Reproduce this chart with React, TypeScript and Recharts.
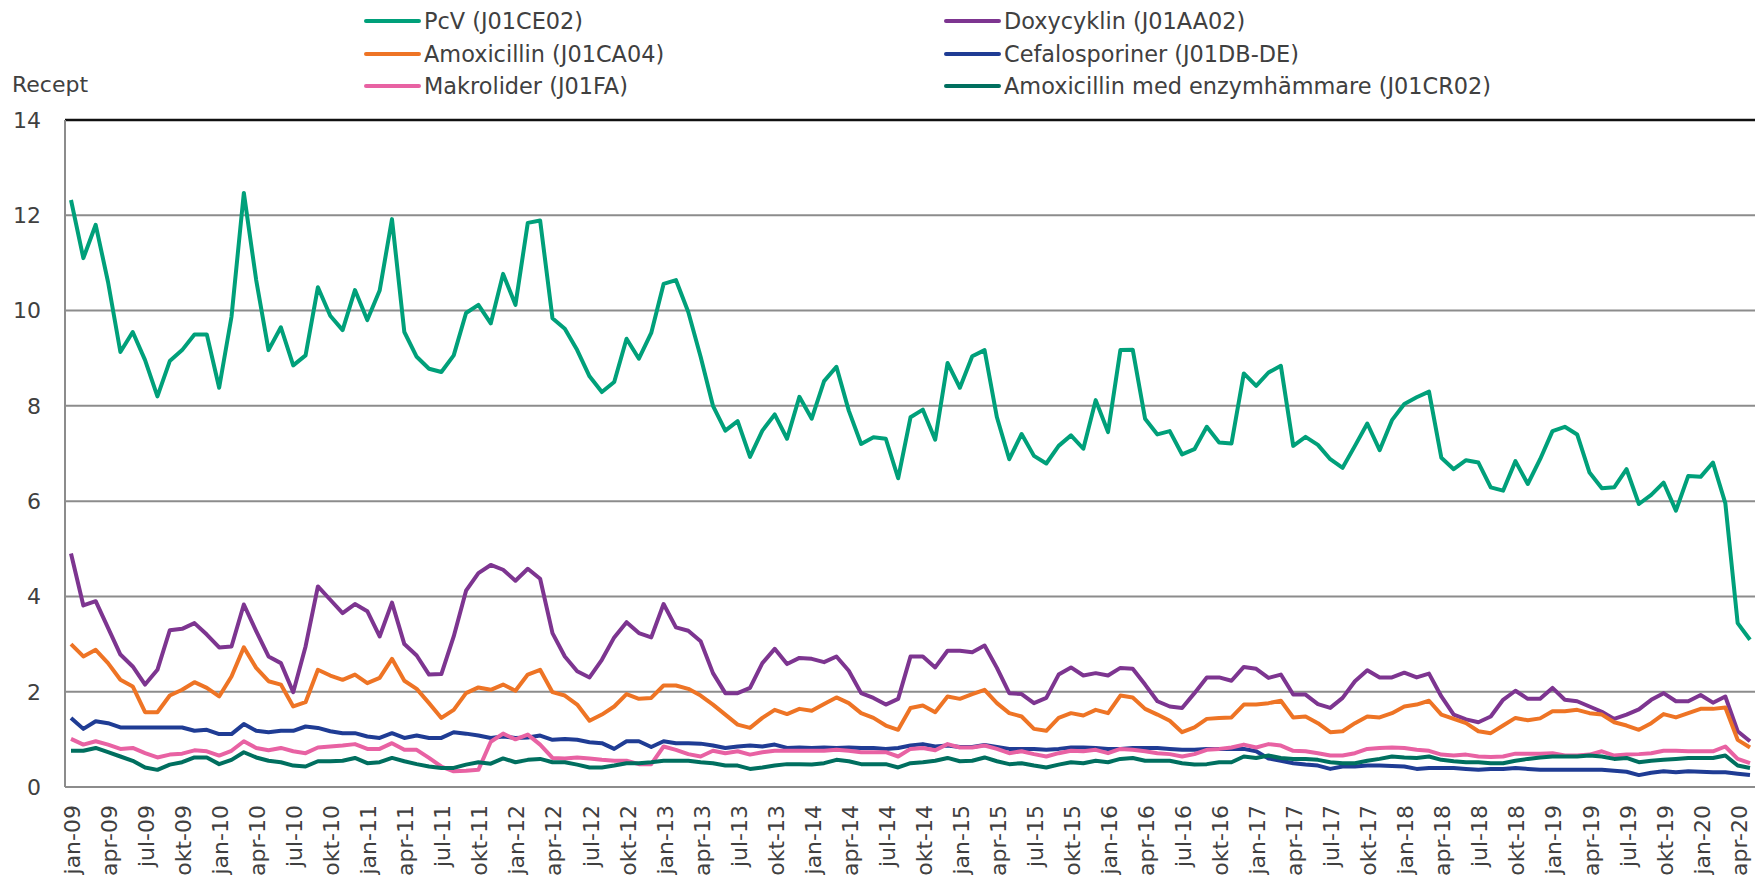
import { LineChart, Line, XAxis, YAxis, CartesianGrid, ReferenceLine } from "recharts";

const monthNames = ["jan", "feb", "mar", "apr", "maj", "jun", "jul", "aug", "sep", "okt", "nov", "dec"];
const years = ["09", "10", "11", "12", "13", "14", "15", "16", "17", "18", "19", "20"];

// jan-09 .. maj-20
const months: string[] = [];
years.forEach((y) => monthNames.forEach((m) => months.push(`${m}-${y}`)));
const categories = months.slice(0, 137);

const pcv = [
  12.32, 11.1, 11.8, 10.6, 9.13, 9.55, 8.96, 8.2, 8.94, 9.17, 9.5, 9.5,
  8.38, 9.87, 12.47, 10.64, 9.17, 9.65, 8.85, 9.06, 10.49, 9.89, 9.59, 10.43,
  9.8, 10.42, 11.92, 9.55, 9.03, 8.78, 8.71, 9.06, 9.95, 10.12, 9.73, 10.77,
  10.12, 11.84, 11.89, 9.84, 9.62, 9.17, 8.62, 8.29, 8.5, 9.41, 8.99, 9.53,
  10.56, 10.64, 9.97, 9.03, 8.0, 7.48, 7.68, 6.93, 7.48, 7.82, 7.31, 8.19,
  7.73, 8.52, 8.82, 7.9, 7.2, 7.34, 7.31, 6.48, 7.76, 7.92, 7.29, 8.9,
  8.38, 9.04, 9.17, 7.76, 6.88, 7.41, 6.95, 6.79, 7.16, 7.38, 7.1, 8.12,
  7.45, 9.17, 9.18, 7.73, 7.4, 7.47, 6.98, 7.09, 7.56, 7.23, 7.21, 8.68,
  8.42, 8.7, 8.84, 7.16, 7.35, 7.18, 6.88, 6.7, 7.16, 7.63, 7.07, 7.7,
  8.04, 8.18, 8.3, 6.91, 6.67, 6.86, 6.81, 6.29, 6.22, 6.84, 6.36, 6.88,
  7.47, 7.56, 7.4, 6.6, 6.27, 6.29, 6.67, 5.94, 6.13, 6.39, 5.8, 6.53,
  6.51, 6.81, 5.96, 3.44, 3.09,
];

const doxy = [
  4.9, 3.81, 3.9, 3.34, 2.78, 2.53, 2.15, 2.46, 3.29, 3.32, 3.44, 3.2,
  2.93, 2.95, 3.83, 3.27, 2.74, 2.6, 1.99, 2.95, 4.21, 3.93, 3.65, 3.84,
  3.69, 3.16, 3.87, 3.0, 2.76, 2.36, 2.37, 3.16, 4.12, 4.49, 4.66, 4.56,
  4.33, 4.58, 4.37, 3.23, 2.74, 2.43, 2.3, 2.67, 3.14, 3.46, 3.23, 3.14,
  3.84, 3.35, 3.28, 3.06, 2.39, 1.97, 1.97, 2.08, 2.6, 2.9, 2.58, 2.71,
  2.69, 2.62, 2.74, 2.44, 1.97, 1.87, 1.73, 1.85, 2.74, 2.74, 2.51, 2.86,
  2.86, 2.83, 2.97, 2.5, 1.97, 1.95, 1.76, 1.87, 2.36, 2.51, 2.34, 2.39,
  2.34, 2.5, 2.48, 2.15, 1.8, 1.69, 1.66, 1.97, 2.3, 2.3, 2.23, 2.52,
  2.48, 2.29, 2.36, 1.94, 1.94, 1.74, 1.66, 1.87, 2.22, 2.45, 2.3, 2.3,
  2.4, 2.3, 2.38, 1.9, 1.52, 1.42, 1.36, 1.48, 1.83, 2.02, 1.85, 1.85,
  2.08, 1.83, 1.8, 1.69, 1.58, 1.43, 1.52, 1.63, 1.83, 1.97, 1.8, 1.8,
  1.93, 1.77, 1.9, 1.17, 0.96,
];

const amox = [
  3.0, 2.74, 2.88, 2.6, 2.25, 2.11, 1.57, 1.57, 1.92, 2.04, 2.2, 2.08,
  1.9, 2.32, 2.93, 2.5, 2.22, 2.15, 1.69, 1.78, 2.46, 2.34, 2.25, 2.36,
  2.18, 2.29, 2.69, 2.23, 2.06, 1.76, 1.45, 1.62, 1.97, 2.09, 2.04, 2.15,
  2.02, 2.36, 2.46, 1.99, 1.92, 1.73, 1.39, 1.52, 1.69, 1.95, 1.85, 1.87,
  2.13, 2.13, 2.06, 1.92, 1.73, 1.52, 1.31, 1.24, 1.45, 1.62, 1.53, 1.64,
  1.6, 1.74, 1.88, 1.76, 1.55, 1.45, 1.29, 1.2, 1.66, 1.71, 1.57, 1.9,
  1.85, 1.95, 2.04, 1.76, 1.55, 1.48, 1.22, 1.18, 1.45, 1.55, 1.5, 1.62,
  1.55, 1.92, 1.88, 1.64, 1.52, 1.39, 1.15, 1.25, 1.43, 1.45, 1.46, 1.73,
  1.73, 1.76, 1.81, 1.46, 1.48, 1.34, 1.15, 1.17, 1.34, 1.48, 1.46, 1.55,
  1.69, 1.73, 1.81, 1.52, 1.43, 1.34, 1.17, 1.13, 1.29, 1.45, 1.4, 1.44,
  1.59, 1.59, 1.62, 1.55, 1.52, 1.36, 1.29, 1.2, 1.34, 1.53, 1.46, 1.55,
  1.64, 1.64, 1.67, 0.99, 0.83,
];

const cefa = [
  1.45, 1.22, 1.38, 1.34, 1.25, 1.25, 1.25, 1.25, 1.25, 1.25, 1.18, 1.2,
  1.11, 1.11, 1.32, 1.18, 1.15, 1.18, 1.18, 1.27, 1.24, 1.17, 1.13, 1.13,
  1.06, 1.03, 1.13, 1.03, 1.08, 1.03, 1.03, 1.15, 1.12, 1.08, 1.03, 1.06,
  1.03, 1.04, 1.08, 0.99, 1.01, 0.99, 0.94, 0.92, 0.8, 0.96, 0.96, 0.84,
  0.96, 0.92, 0.92, 0.91, 0.87, 0.82, 0.85, 0.87, 0.85, 0.89, 0.82, 0.83,
  0.82, 0.83, 0.82, 0.83, 0.82, 0.82, 0.8, 0.82, 0.87, 0.9, 0.85, 0.87,
  0.84, 0.84, 0.88, 0.84, 0.8, 0.8, 0.8, 0.78, 0.8, 0.83, 0.83, 0.82,
  0.8, 0.8, 0.82, 0.82, 0.82, 0.8, 0.78, 0.78, 0.8, 0.8, 0.8, 0.8,
  0.75, 0.6, 0.55, 0.5, 0.47, 0.45, 0.38, 0.43, 0.43, 0.45, 0.45, 0.44,
  0.43, 0.38, 0.4, 0.4, 0.4, 0.38, 0.36, 0.38, 0.38, 0.4, 0.38, 0.36,
  0.36, 0.36, 0.36, 0.36, 0.36, 0.34, 0.32, 0.25, 0.3, 0.33, 0.31, 0.33,
  0.32, 0.31, 0.31, 0.28, 0.25,
];

const makro = [
  1.01, 0.89, 0.96, 0.89, 0.8, 0.82, 0.71, 0.62, 0.68, 0.7, 0.77, 0.75,
  0.66, 0.76, 0.96, 0.82, 0.77, 0.82, 0.75, 0.71, 0.83, 0.85, 0.87, 0.9,
  0.8, 0.8, 0.92, 0.78, 0.78, 0.61, 0.43, 0.33, 0.34, 0.36, 0.95, 1.12,
  1.0, 1.1, 0.89, 0.61, 0.6, 0.62, 0.6, 0.57, 0.55, 0.55, 0.48, 0.48,
  0.85, 0.78, 0.69, 0.64, 0.76, 0.71, 0.75, 0.68, 0.73, 0.76, 0.76, 0.76,
  0.76, 0.76, 0.78, 0.76, 0.73, 0.73, 0.73, 0.64, 0.8, 0.82, 0.77, 0.9,
  0.83, 0.83, 0.87, 0.8, 0.71, 0.75, 0.69, 0.64, 0.71, 0.76, 0.75, 0.78,
  0.71, 0.8, 0.78, 0.75, 0.71, 0.69, 0.64, 0.69, 0.78, 0.8, 0.83, 0.89,
  0.83, 0.9, 0.87, 0.76, 0.75, 0.71, 0.66, 0.66, 0.71, 0.8, 0.82, 0.83,
  0.82, 0.78, 0.76, 0.68, 0.66, 0.68, 0.64, 0.63, 0.64, 0.7, 0.7, 0.7,
  0.71, 0.66, 0.66, 0.68, 0.75, 0.66, 0.68, 0.69, 0.71, 0.76, 0.76, 0.75,
  0.75, 0.75, 0.85, 0.59, 0.5,
];

const amoxEnz = [
  0.76, 0.76, 0.82, 0.73, 0.64, 0.55, 0.41, 0.36, 0.47, 0.52, 0.62, 0.62,
  0.48, 0.57, 0.73, 0.62, 0.55, 0.52, 0.45, 0.43, 0.54, 0.54, 0.55, 0.61,
  0.5, 0.52, 0.61, 0.54, 0.48, 0.43, 0.4, 0.4, 0.47, 0.52, 0.49, 0.6,
  0.52, 0.57, 0.59, 0.52, 0.52, 0.47, 0.41, 0.41, 0.45, 0.5, 0.5, 0.52,
  0.55, 0.55, 0.55, 0.52, 0.5, 0.45, 0.45, 0.38, 0.41, 0.45, 0.48, 0.48,
  0.47, 0.5, 0.57, 0.54, 0.48, 0.48, 0.48, 0.41, 0.5, 0.52, 0.55, 0.61,
  0.54, 0.55, 0.62, 0.54, 0.48, 0.5, 0.45, 0.41, 0.47, 0.52, 0.5, 0.55,
  0.52, 0.59, 0.61, 0.55, 0.55, 0.55, 0.5, 0.47, 0.48, 0.52, 0.52, 0.64,
  0.61, 0.66, 0.61, 0.59, 0.59, 0.57, 0.52, 0.5, 0.5, 0.55, 0.59, 0.64,
  0.62, 0.61, 0.64, 0.57, 0.54, 0.52, 0.52, 0.5, 0.5, 0.55, 0.59, 0.62,
  0.64, 0.64, 0.64, 0.66, 0.64, 0.59, 0.61, 0.52, 0.55, 0.57, 0.59, 0.61,
  0.61, 0.61, 0.66, 0.45, 0.4,
];

const yTicks = [0, 2, 4, 6, 8, 10, 12, 14];

const series = [
  { key: "pcv", name: "PcV (J01CE02)", color: "#00a07a", values: pcv },
  { key: "doxy", name: "Doxycyklin (J01AA02)", color: "#7d3590", values: doxy },
  { key: "amox", name: "Amoxicillin (J01CA04)", color: "#ee7425", values: amox },
  { key: "cefa", name: "Cefalosporiner (J01DB-DE)", color: "#1f3c94", values: cefa },
  { key: "makro", name: "Makrolider (J01FA)", color: "#e862a3", values: makro },
  { key: "amoxEnz", name: "Amoxicillin med enzymhämmare (J01CR02)", color: "#006f5f", values: amoxEnz },
];

const data = categories.map((m, i) => {
  const row: Record<string, any> = { m };
  series.forEach((s) => (row[s.key] = s.values[i]));
  return row;
});

const FONT = "'DejaVu Sans', Verdana, sans-serif";
const TXT = "#404040";

function MonthTick({ x, y, payload }: any) {
  return (
    <text
      x={x + 9}
      y={y + 10}
      transform={`rotate(-90, ${x + 9}, ${y + 10})`}
      textAnchor="end"
      fontSize={22}
      fontFamily={FONT}
      fill={TXT}
    >
      {payload.value}
    </text>
  );
}

function ValueTick({ y, payload }: any) {
  return (
    <text x={41} y={y} dy="0.36em" textAnchor="end" fontSize={22} fontFamily={FONT} fill={TXT}>
      {payload.value}
    </text>
  );
}

// legend: row-major, two columns
const legendCols = [364, 944];
const legendRows = [21, 53.5, 86];

function LegendOverlay() {
  return (
    <>
      {series.map((s, i) => (
        <div
          key={s.key}
          style={{
            position: "absolute",
            left: legendCols[i % 2],
            top: legendRows[Math.floor(i / 2)] - 14,
            height: 28,
            display: "flex",
            alignItems: "center",
            fontSize: 22.4,
            fontFamily: FONT,
            color: TXT,
            whiteSpace: "nowrap",
          }}
        >
          <span style={{ display: "inline-block", width: 57, height: 4, background: s.color, borderRadius: 2 }} />
          <span style={{ marginLeft: 3 }}>{s.name}</span>
        </div>
      ))}
    </>
  );
}

export default function App() {
  return (
    <div
      style={{
        position: "absolute",
        left: 0,
        top: 0,
        width: 1755,
        height: 876,
        overflow: "hidden",
        background: "#fff",
      }}
    >
      <LegendOverlay />
      <div
        style={{
          position: "absolute",
          left: 12,
          top: 72,
          fontSize: 22,
          fontFamily: FONT,
          color: TXT,
        }}
      >
        Recept
      </div>
      <div style={{ position: "absolute", left: 0, top: 0 }}>
        <LineChart width={1760} height={876} data={data} margin={{ top: 120, right: 4, bottom: 0, left: 0 }}>
          <CartesianGrid vertical={false} stroke="#8c8c8c" strokeWidth={2} />
          <XAxis
            dataKey="m"
            interval={2}
            tick={<MonthTick />}
            tickLine={false}
            axisLine={{ stroke: "#8c8c8c", strokeWidth: 2 }}
            height={89}
            padding={{ left: 6, right: 6 }}
          />
          <YAxis
            domain={[0, 14]}
            ticks={yTicks}
            width={65}
            tick={<ValueTick />}
            tickLine={false}
            axisLine={{ stroke: "#8c8c8c", strokeWidth: 2 }}
          />
          <ReferenceLine y={14} stroke="#111" strokeWidth={2.5} />
          {series.map((s) => (
            <Line
              key={s.key}
              type="linear"
              dataKey={s.key}
              name={s.name}
              stroke={s.color}
              strokeWidth={4}
              strokeLinejoin="round"
              dot={false}
              isAnimationActive={false}
            />
          ))}
        </LineChart>
      </div>
    </div>
  );
}
